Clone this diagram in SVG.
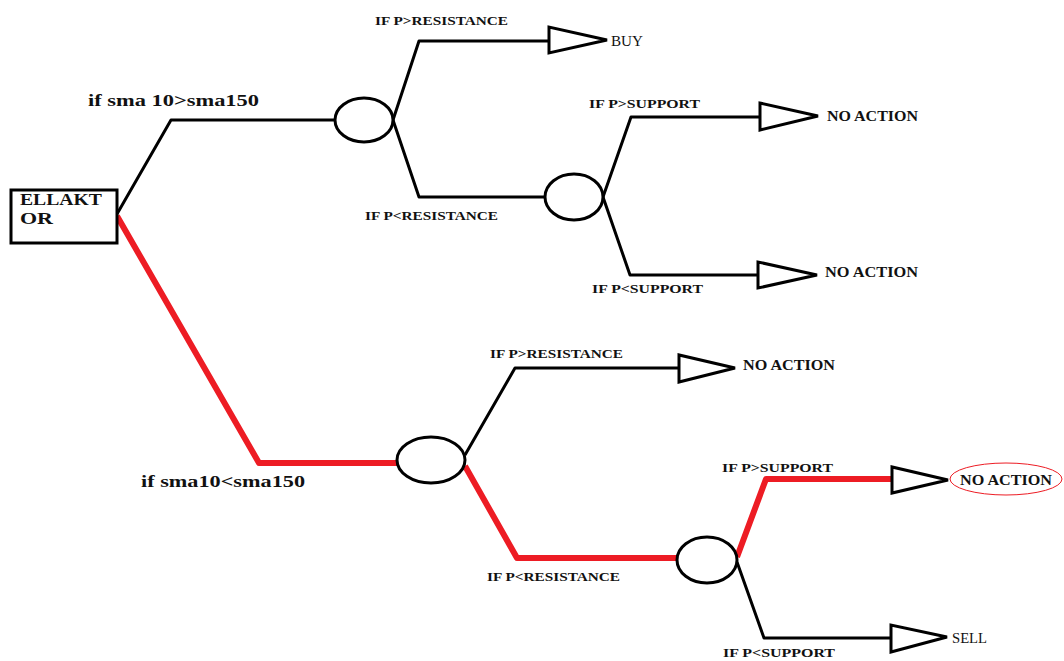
<svg xmlns="http://www.w3.org/2000/svg" width="1064" height="661" viewBox="0 0 1064 661">
  <style>
    .edge { fill: none; stroke: #000; stroke-width: 3; stroke-linejoin: round; }
    .hot { fill: none; stroke: #ed1c24; stroke-width: 6; stroke-linejoin: round; }
    .chance { fill: #fff; stroke: #000; stroke-width: 3; }
    .end { fill: #fff; stroke: #000; stroke-width: 3; stroke-linejoin: miter; }
    .cond { font-family: "Liberation Serif", serif; font-weight: bold; font-size: 13px; fill: #111; }
    .big { font-family: "Liberation Serif", serif; font-weight: bold; font-size: 17px; fill: #111; }
    .out { font-family: "Liberation Serif", serif; font-weight: bold; font-size: 14px; fill: #111; }
    .outr { font-family: "Liberation Serif", serif; font-size: 14px; fill: #111; }
  </style>
  <rect width="1064" height="661" fill="#fff"/>

  <!-- branches -->
  <g id="connectors">
    <polyline class="edge" points="117,214 171,120 335,120"/>
    <polyline class="edge" points="393,120 419,41 550,41"/>
    <polyline class="edge" points="393,120 419,197 545,197"/>
    <polyline class="edge" points="603,197 631,117 760,117"/>
    <polyline class="edge" points="603,197 630,275 758,275"/>
    <polyline class="edge" points="465,455 515,368 678,368"/>
    <polyline class="edge" points="737,562 764,638 892,638"/>
    <polyline class="hot" points="117,216 259,463 398,463"/>
    <polyline class="hot" points="465,466 517,558 678,558"/>
    <polyline class="hot" points="737,557 766,479 892,479"/>
  </g>

  <!-- root -->
  <g id="root">
    <rect x="11" y="190" width="106" height="53" fill="#fff" stroke="#000" stroke-width="3"/>
    <text class="big" x="20" y="205" textLength="82" lengthAdjust="spacingAndGlyphs">ELLAKT</text>
    <text class="big" x="20" y="224" textLength="33" lengthAdjust="spacingAndGlyphs">OR</text>
  </g>

  <g id="label-up">
    <text class="big" x="88" y="106" textLength="171" lengthAdjust="spacingAndGlyphs">if sma 10&gt;sma150</text>
  </g>
  <g id="label-down">
    <text class="big" x="141" y="487" textLength="164" lengthAdjust="spacingAndGlyphs">if sma10&lt;sma150</text>
  </g>

  <!-- chance nodes -->
  <g id="c1"><ellipse class="chance" cx="364" cy="120" rx="29" ry="22"/></g>
  <g id="c2"><ellipse class="chance" cx="574" cy="197" rx="29" ry="23"/></g>
  <g id="c3"><ellipse class="chance" cx="431" cy="460" rx="34" ry="23"/></g>
  <g id="c4"><ellipse class="chance" cx="707" cy="560" rx="30" ry="23"/></g>

  <!-- condition labels -->
  <g id="cond-labels">
    <text class="cond" x="375" y="25" textLength="133" lengthAdjust="spacingAndGlyphs">IF P&gt;RESISTANCE</text>
    <text class="cond" x="365" y="220" textLength="133" lengthAdjust="spacingAndGlyphs">IF P&lt;RESISTANCE</text>
    <text class="cond" x="589" y="108" textLength="111" lengthAdjust="spacingAndGlyphs">IF P&gt;SUPPORT</text>
    <text class="cond" x="592" y="293" textLength="111" lengthAdjust="spacingAndGlyphs">IF P&lt;SUPPORT</text>
    <text class="cond" x="490" y="358" textLength="133" lengthAdjust="spacingAndGlyphs">IF P&gt;RESISTANCE</text>
    <text class="cond" x="487" y="581" textLength="133" lengthAdjust="spacingAndGlyphs">IF P&lt;RESISTANCE</text>
    <text class="cond" x="722" y="472" textLength="111" lengthAdjust="spacingAndGlyphs">IF P&gt;SUPPORT</text>
    <text class="cond" x="723" y="657" textLength="112" lengthAdjust="spacingAndGlyphs">IF P&lt;SUPPORT</text>
  </g>

  <!-- outcomes -->
  <g id="buy">
    <polygon class="end" points="549,27 549,53 607,40"/>
    <text class="outr" x="611" y="46" textLength="32" lengthAdjust="spacingAndGlyphs">BUY</text>
  </g>
  <g id="no-action-1">
    <polygon class="end" points="760,103 760,130 818,116"/>
    <text class="out" x="827" y="121" textLength="91" lengthAdjust="spacingAndGlyphs">NO ACTION</text>
  </g>
  <g id="no-action-2">
    <polygon class="end" points="758,262 758,288 817,275"/>
    <text class="out" x="825" y="277" textLength="93" lengthAdjust="spacingAndGlyphs">NO ACTION</text>
  </g>
  <g id="no-action-3">
    <polygon class="end" points="679,355 679,382 735,368"/>
    <text class="out" x="743" y="370" textLength="92" lengthAdjust="spacingAndGlyphs">NO ACTION</text>
  </g>
  <g id="no-action-4">
    <polygon class="end" points="892,467 892,493 948,480"/>
    <ellipse cx="1006" cy="479" rx="56" ry="16" fill="none" stroke="#ed1c24" stroke-width="1"/>
    <text class="out" x="960" y="485" textLength="92" lengthAdjust="spacingAndGlyphs">NO ACTION</text>
  </g>
  <g id="sell">
    <polygon class="end" points="891,625 891,652 947,637"/>
    <text class="outr" x="952" y="643" textLength="35" lengthAdjust="spacingAndGlyphs">SELL</text>
  </g>
</svg>
